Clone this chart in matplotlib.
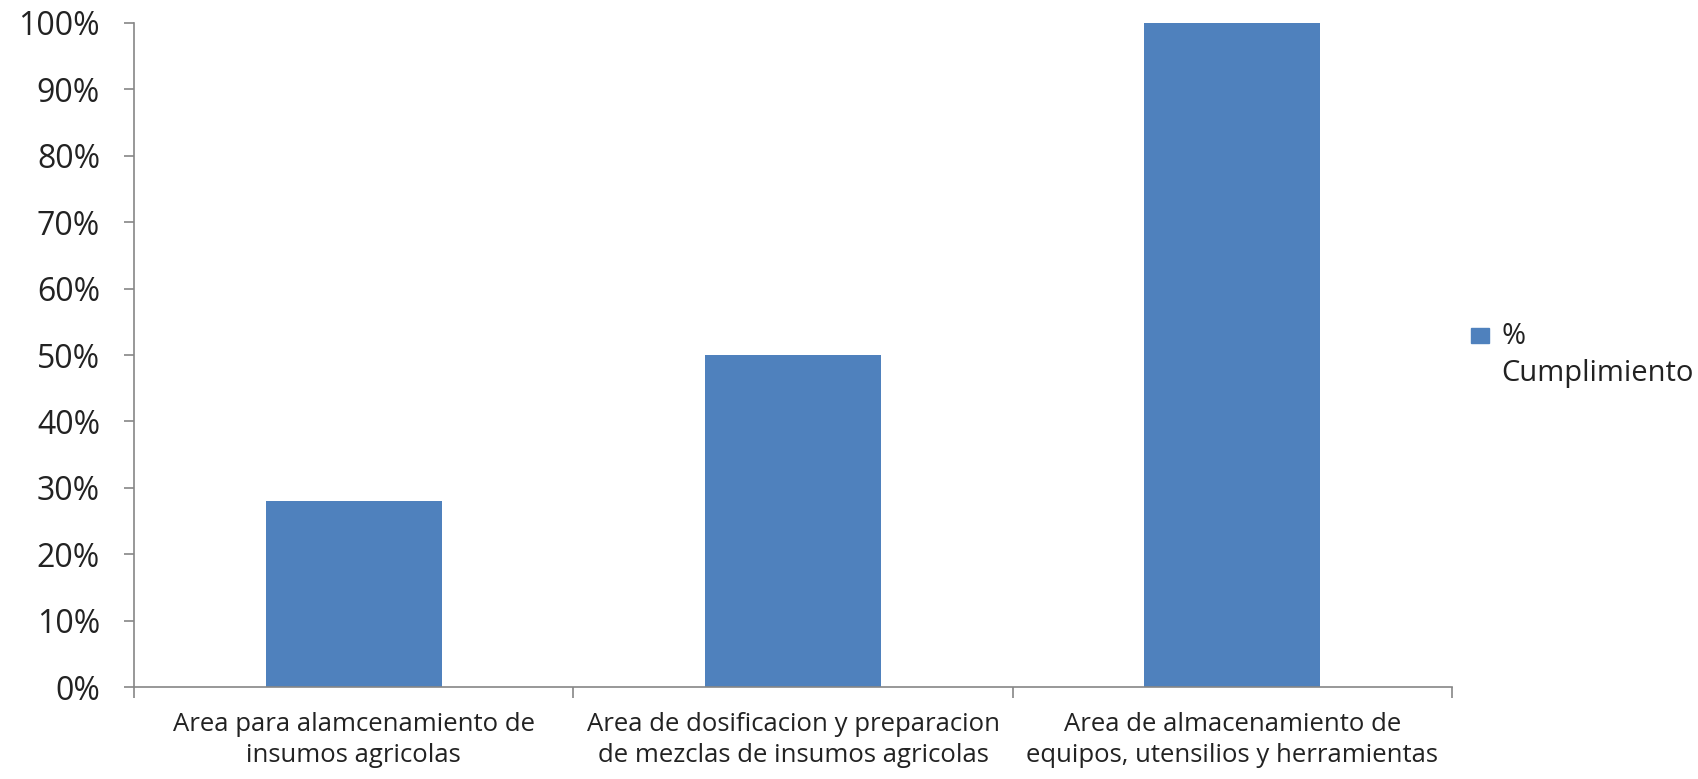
import numpy as np
import matplotlib.pyplot as plt
from matplotlib.patches import Rectangle
from matplotlib.legend_handler import HandlerPatch
from matplotlib.ticker import FixedLocator, PercentFormatter

plt.rcParams['font.family'] = ['Open Sans', 'DejaVu Sans']

# % de cumplimiento por area
categories = [
    'Area para alamcenamiento de\ninsumos agricolas',
    'Area de dosificacion y preparacion\nde mezclas de insumos agricolas',
    'Area de almacenamiento de\nequipos, utensilios y herramientas',
]
cumplimiento = [28, 50, 100]
series_name = '%\nCumplimiento'

bar_color = '#4F81BD'
axis_color = '#868686'
text_color = '#222222'


def top_square(legend, orig_handle, xdescent, ydescent, width, height, fontsize):
    # keep the swatch level with the first line of a two-line label
    size = width
    return Rectangle((-xdescent, -ydescent + height - size * 0.7), size, size * 0.85)


width, height, dpi = 1699, 779, 100.0
fig = plt.figure(figsize=(width / dpi, height / dpi), dpi=dpi)
ax = fig.add_axes([0.0789, 0.118, 0.7757, 0.8525])

x = np.arange(len(categories))
ax.bar(x, cumplimiento, width=0.4, color=bar_color)

ax.set_xlim(-0.5, len(categories) - 0.5)
ax.set_ylim(0, 100)
ax.set_yticks(np.arange(0, 101, 10))
ax.yaxis.set_major_formatter(PercentFormatter(decimals=0))

# category labels centred, tick marks on the boundaries
ax.set_xticks(x)
ax.set_xticklabels(categories, fontsize=18.5, color=text_color, linespacing=1.3)
ax.xaxis.set_minor_locator(FixedLocator(np.arange(-0.5, len(categories), 1.0)))
ax.tick_params(axis='x', which='major', length=0, pad=18)
ax.tick_params(axis='x', which='minor', length=8, color=axis_color, width=1.2)
ax.tick_params(axis='y', length=7.5, color=axis_color, width=1.2,
               labelsize=23, labelcolor=text_color, pad=17)

for side in ('top', 'right'):
    ax.spines[side].set_visible(False)
for side in ('left', 'bottom'):
    ax.spines[side].set_color(axis_color)
    ax.spines[side].set_linewidth(1.2)

swatch = Rectangle((0, 0), 1, 1, color=bar_color)
leg = ax.legend(handles=[swatch], labels=[series_name],
                loc='center left', bbox_to_anchor=(1.0147, 0.5), frameon=False,
                fontsize=21, handlelength=0.62, handleheight=2.4,
                handletextpad=0.4, borderaxespad=0, borderpad=0,
                handler_map={Rectangle: HandlerPatch(patch_func=top_square)})
for t in leg.get_texts():
    t.set_linespacing(1.4)
    t.set_color(text_color)

fig.savefig('out.png', dpi=dpi)
plt.close(fig)
